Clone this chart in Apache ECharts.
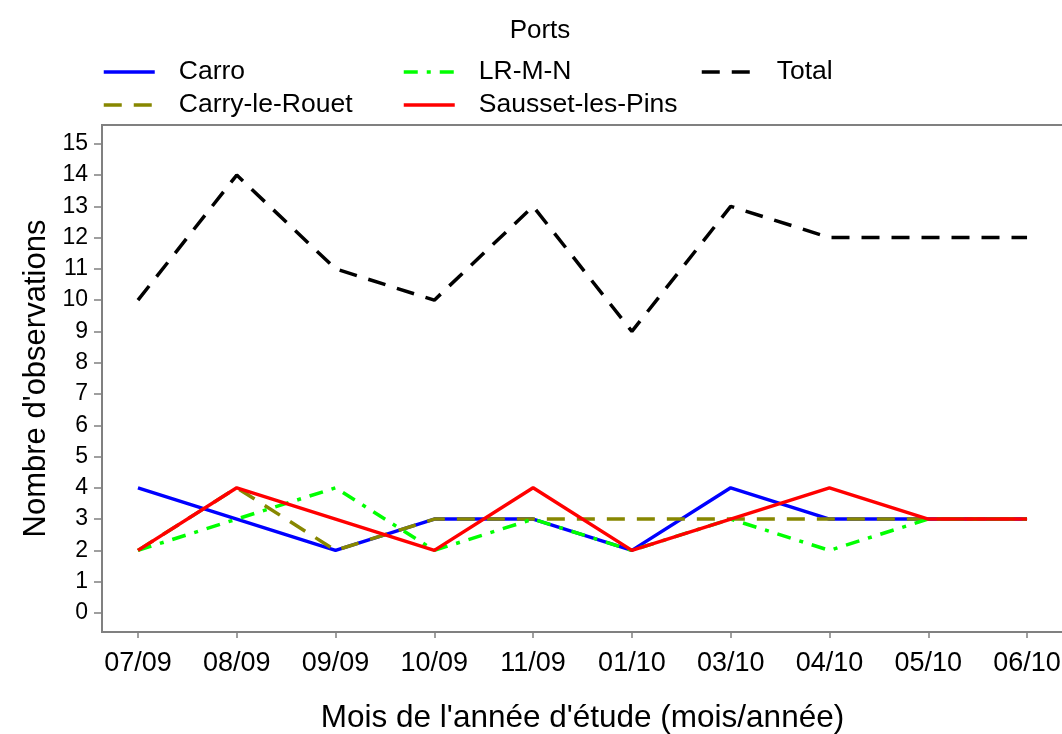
<!DOCTYPE html>
<html>
<head>
<meta charset="utf-8">
<script src="https://cdn.jsdelivr.net/npm/echarts@6/dist/echarts.min.js"></script>
<style>
html,body{margin:0;padding:0;background:#fff;}
#chart{width:1062px;height:734px;}
</style>
</head>
<body>
<div id="chart"></div>
<script>
const months = ['07/09','08/09','09/09','10/09','11/09','01/10','03/10','04/10','05/10','06/10'];
const carro = [4,3,2,3,3,2,4,3,3,3];
const carryLeRouet = [2,4,2,3,3,3,3,3,3,3];
const lrmn = [2,3,4,2,3,2,3,2,3,3];
const sausset = [2,4,3,2,4,2,3,4,3,3];
const total = [10,14,11,10,13,9,13,12,12,12];
const yTicks = [0,1,2,3,4,5,6,7,8,9,10,11,12,13,14,15];

const FONT = 'Liberation Sans, Arial, sans-serif';
const idx = months.map((m,i)=>i);
const toPts = arr => arr.map((v,i)=>[i,v]);

const chart = echarts.init(document.getElementById('chart'));
const LW = 3.5;
const legendBase = {
  orient:'vertical', top:57, padding:0, itemWidth:51, itemHeight:20, itemGap:3,
  selectedMode:false,
  itemStyle:{opacity:0},
  lineStyle:{width:LW},
  textStyle:{fontFamily:FONT, fontSize:26.5, color:'#000', lineHeight:30, padding:[0,0,0,19]}
};
chart.setOption({
  animation:false,
  backgroundColor:'#fff',
  title:{text:'Ports', left:535, textAlign:'center', top:13,
    textStyle:{fontFamily:FONT, fontSize:26, fontWeight:'normal', color:'#000'}},
  legend:[
    Object.assign({}, legendBase, {left:102, data:['Carro','Carry-le-Rouet']}),
    Object.assign({}, legendBase, {left:402, data:['LR-M-N','Sausset-les-Pins']}),
    Object.assign({}, legendBase, {left:700, data:['Total']})
  ],
  grid:{left:102, top:125, width:961, height:507, show:true, borderColor:'#808080', borderWidth:2,
    containLabel:false, outerBoundsMode:'none'},
  xAxis:{
    type:'value', min:-0.364, max:9.364,
    name:"Mois de l'année d'étude (mois/année)", nameLocation:'middle', nameGap:70,
    nameTextStyle:{fontFamily:FONT, fontSize:31.5, color:'#000'},
    axisLine:{show:true, onZero:false, lineStyle:{color:'#808080', width:2}},
    axisTick:{show:true, length:6, customValues:idx, lineStyle:{color:'#808080', width:1.5}},
    axisLabel:{customValues:idx, margin:18, fontFamily:FONT, fontSize:27, color:'#000',
      formatter: v => months[Math.round(v)]},
    splitLine:{show:false}
  },
  yAxis:{
    type:'value', min:-0.61, max:15.6,
    name:"Nombre d'observations", nameLocation:'middle', nameGap:44,
    nameTextStyle:{fontFamily:FONT, fontSize:31, color:'#000'},
    axisLine:{show:true, onZero:false, lineStyle:{color:'#808080', width:2}},
    axisTick:{show:true, length:8, customValues:yTicks, lineStyle:{color:'#808080', width:1.5}},
    axisLabel:{customValues:yTicks, margin:14, fontFamily:FONT, fontSize:23, color:'#000'},
    splitLine:{show:false}
  },
  series:[
    {name:'Carro', type:'line', data:toPts(carro), symbol:'none', lineStyle:{color:'#0000ff', width:LW, type:'solid'}, itemStyle:{color:'#0000ff'}},
    {name:'Carry-le-Rouet', type:'line', data:toPts(carryLeRouet), symbol:'none', lineStyle:{color:'#878700', width:LW, type:[18,12]}, itemStyle:{color:'#878700'}},
    {name:'LR-M-N', type:'line', data:toPts(lrmn), symbol:'none', lineStyle:{color:'#00ff00', width:LW, type:[14,9,4,9]}, itemStyle:{color:'#00ff00'}},
    {name:'Sausset-les-Pins', type:'line', data:toPts(sausset), symbol:'none', lineStyle:{color:'#ff0000', width:LW, type:'solid'}, itemStyle:{color:'#ff0000'}},
    {name:'Total', type:'line', data:toPts(total), symbol:'none', lineStyle:{color:'#000000', width:LW, type:[18,12]}, itemStyle:{color:'#000000'}}
  ]
});
</script>
</body>
</html>
